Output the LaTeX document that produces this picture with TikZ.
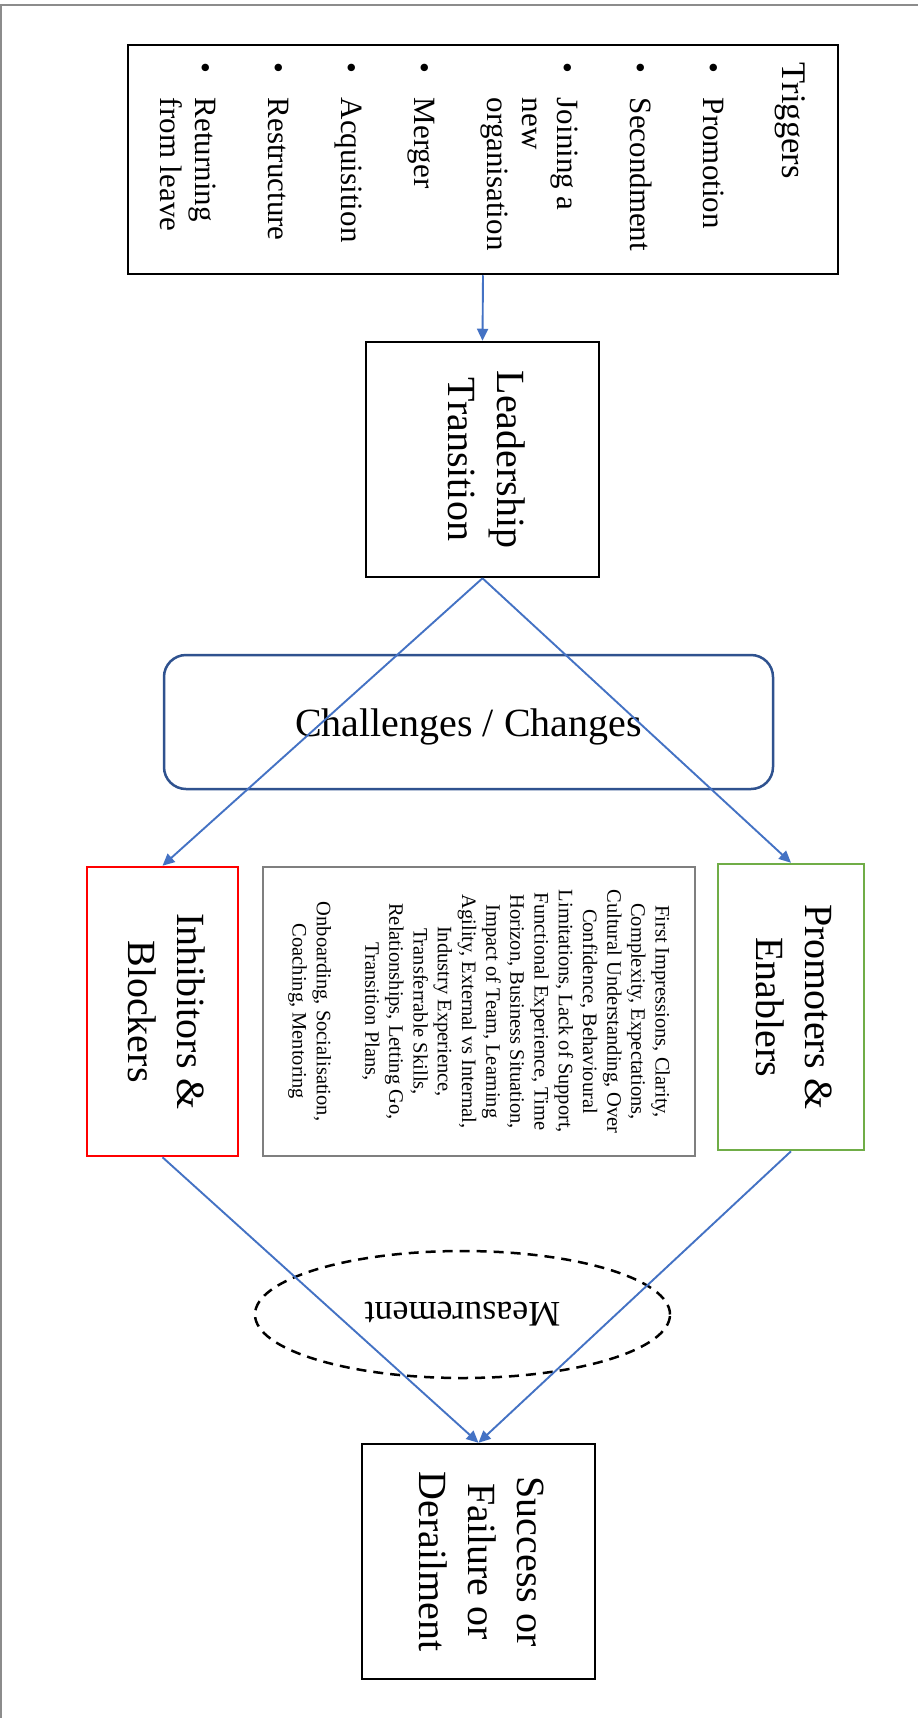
\documentclass[tikz,border=0pt]{standalone}
\usepackage{fontspec}
\setmainfont{Liberation Serif}
\usepackage{graphicx}
\usetikzlibrary{arrows.meta,shapes.geometric}

\definecolor{flowblue}{HTML}{4472C4}
\definecolor{themegray}{HTML}{7F7F7F}
\definecolor{enablegreen}{HTML}{70AD47}
\definecolor{navyedge}{HTML}{2F528F}
\definecolor{pageedge}{HTML}{8C8C8C}

\newcommand{\turned}[1]{\rotatebox{-90}{#1}}

\begin{document}
\begin{tikzpicture}[x=1pt,y=-1pt,
  box/.style={draw=black,line width=2.5pt,inner sep=0pt,align=center},
  bigtext/.style={font=\fontsize{40}{49}\selectfont},
  flow/.style={draw=flowblue,line width=1.9pt,
    -{Triangle[length=12pt,width=11pt]}}]

\useasboundingbox (0,0) rectangle (918,1718);
\fill[white] (0,0) rectangle (918,1718);

% sheet edges
\draw[pageedge,line width=2pt] (0,5) -- (918,5);
\draw[pageedge,line width=2pt] (1,5) -- (1,1718);

% triggers list
\node[box,minimum width=710pt,minimum height=229pt] (triggers) at (483,159.5) {};
\node[inner sep=0pt,font=\fontsize{31}{35}\selectfont] (triggerlist) at (478,157)
  {\turned{\begin{tabular}{@{}l@{}l@{}}
   \multicolumn{2}{@{}l@{}}{\fontsize{34.5}{35}\selectfont Triggers}\\[44pt]
   \makebox[35pt][l]{•} & Promotion\\[38pt]
   \makebox[35pt][l]{•} & Secondment\\[38pt]
   \makebox[35pt][l]{•} & Joining a\\
   & new\\
   & organisation\\[38pt]
   \makebox[35pt][l]{•} & Merger\\[38pt]
   \makebox[35pt][l]{•} & Acquisition\\[38pt]
   \makebox[35pt][l]{•} & Restructure\\[38pt]
   \makebox[35pt][l]{•} & Returning\\
   & from leave
  \end{tabular}}};

% main stages
\node[box,bigtext,minimum width=233pt,minimum height=235pt] (transition) at (482.5,459.5)
  {\turned{\begin{tabular}{@{}c@{}}Leadership\\Transition\end{tabular}}};

\node[draw=navyedge,line width=2.5pt,rounded corners=22pt,bigtext,
  minimum width=609pt,minimum height=134pt,text height=36pt,text depth=8pt,inner sep=0pt]
  (challenges) at (468.5,722) {Challenges / Changes};

\node[box,draw=red,bigtext,minimum width=151pt,minimum height=289pt] (inhibitors) at (162.5,1011.5)
  {\turned{\begin{tabular}{@{}c@{}}Inhibitors \&\\Blockers\end{tabular}}};

\node[box,draw=themegray,font=\fontsize{20.5}{24.2}\selectfont,
  minimum width=432pt,minimum height=289pt] (factors) at (479,1011.5)
  {\turned{\begin{tabular}{@{}c@{}}
   First Impressions, Clarity,\\
   Complexity, Expectations,\\
   Cultural Understanding, Over\\
   Confidence, Behavioural\\
   Limitations, Lack of Support,\\
   Functional Experience, Time\\
   Horizon, Business Situation,\\
   Impact of Team, Learning\\
   Agility, External vs Internal,\\
   Industry Experience,\\
   Transferrable Skills,\\
   Relationships, Letting Go,\\
   Transition Plans,\\
   \\
   Onboarding, Socialisation,\\
   Coaching, Mentoring
  \end{tabular}}};

\node[box,draw=enablegreen,bigtext,minimum width=146pt,minimum height=286pt] (promoters) at (791,1007)
  {\turned{\begin{tabular}{@{}c@{}}Promoters \&\\Enablers\end{tabular}}};

\node[ellipse,draw=black,line width=2.5pt,dash pattern=on 10pt off 7pt,
  minimum width=415pt,minimum height=127pt,inner sep=0pt,
  font=\fontsize{36}{40}\selectfont] (measurement) at (462.5,1314.5)
  {\rotatebox{180}{Measurement}};

\node[box,bigtext,minimum width=233pt,minimum height=235pt] (outcome) at (478.5,1561.5)
  {\turned{\begin{tabular}{@{}c@{}}Success or\\Failure or\\Derailment\end{tabular}}};

% connectors
\draw[flow] (triggers.south) -- (transition.north);
\draw[flow] (transition.south) -- (inhibitors.north);
\draw[flow] (transition.south) -- (promoters.north);
\draw[flow] (inhibitors.south) -- (outcome.north);
\draw[flow] (promoters.south) -- (outcome.north);

\end{tikzpicture}
\end{document}
